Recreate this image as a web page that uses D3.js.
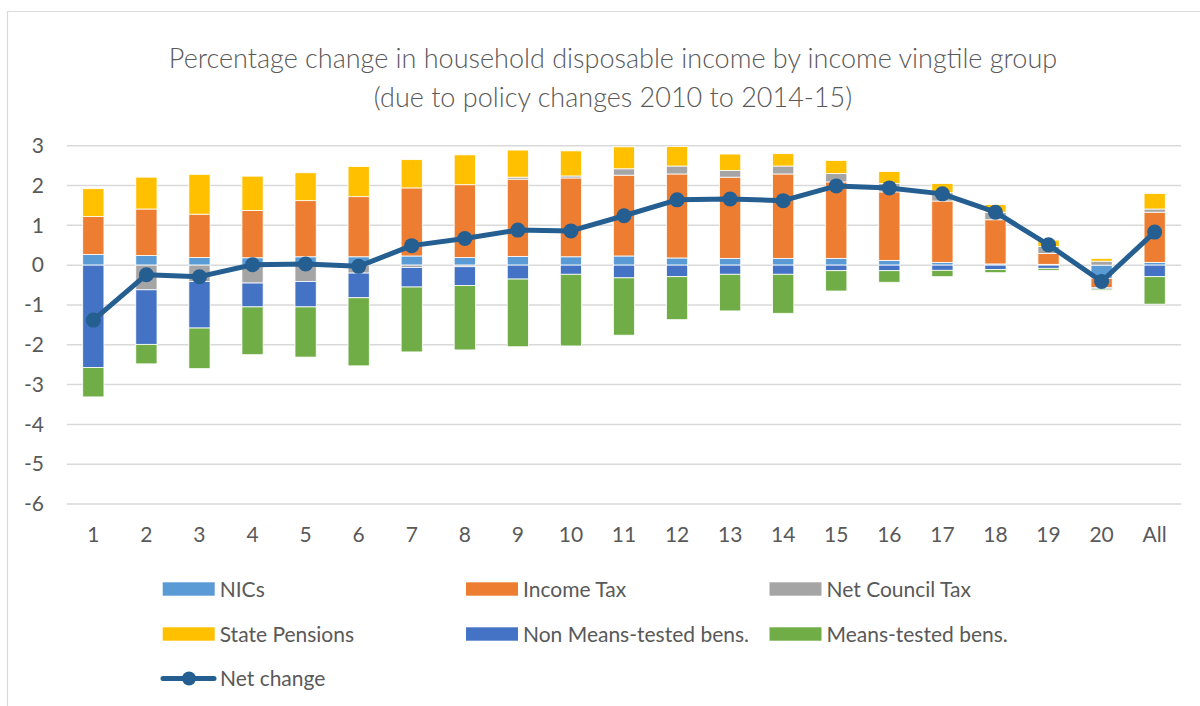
<!DOCTYPE html>
<html>
<head>
<meta charset="utf-8">
<script src="https://cdn.jsdelivr.net/npm/d3@7"></script>
<style>
body { margin: 0; background: #fff; }
svg { display: block; font-family: Lato, "Open Sans", sans-serif; }
</style>
</head>
<body>
<div id="chart"></div>
<script>
var categories = ["1","2","3","4","5","6","7","8","9","10","11","12","13","14","15","16","17","18","19","20","All"];
var nics = [0.27,0.24,0.19,0.185,0.21,0.21,0.23,0.19,0.22,0.21,0.23,0.18,0.17,0.17,0.17,0.12,0.07,0.03,0.02,-0.33,0.07];
var incomeTax = [0.95,1.17,1.09,1.19,1.41,1.51,1.71,1.83,1.94,1.98,2.03,2.11,2.04,2.12,1.92,1.72,1.54,1.11,0.27,-0.24,1.26];
var councilTax = [0,-0.62,-0.41,-0.45,-0.41,-0.20,-0.06,-0.04,0.05,0.05,0.16,0.20,0.17,0.20,0.21,0.21,0.21,0.19,0.18,0.10,0.08];
var statePensions = [0.70,0.80,1.00,0.86,0.70,0.76,0.71,0.75,0.68,0.63,0.55,0.49,0.41,0.31,0.33,0.30,0.23,0.19,0.16,0.07,0.39];
var nonMeansTested = [-2.57,-1.37,-1.17,-0.60,-0.64,-0.62,-0.49,-0.47,-0.35,-0.23,-0.32,-0.29,-0.23,-0.23,-0.14,-0.14,-0.13,-0.11,-0.08,-0.03,-0.29];
var meansTested = [-0.74,-0.49,-1.02,-1.20,-1.26,-1.71,-1.63,-1.62,-1.70,-1.80,-1.44,-1.08,-0.92,-0.98,-0.51,-0.29,-0.16,-0.08,-0.05,-0.03,-0.69];
var netChange = [-1.38,-0.24,-0.29,0.01,0.03,-0.03,0.49,0.67,0.88,0.86,1.24,1.64,1.66,1.62,1.99,1.94,1.79,1.33,0.51,-0.41,0.83];
var yTicks = [3,2,1,0,-1,-2,-3,-4,-5,-6];

var series = [
	{key: "NICs", values: nics, color: "#5B9BD5"},
	{key: "Income Tax", values: incomeTax, color: "#ED7D31"},
	{key: "Net Council Tax", values: councilTax, color: "#A5A5A5"},
	{key: "State Pensions", values: statePensions, color: "#FFC000"},
	{key: "Non Means-tested bens.", values: nonMeansTested, color: "#4472C4"},
	{key: "Means-tested bens.", values: meansTested, color: "#70AD47"}
];
var lineColor = "#255E91";
var textColor = "#595959";

var rows = categories.map(function(c, i) {
	var r = {cat: c};
	series.forEach(function(s) { r[s.key] = s.values[i]; });
	return r;
});

var width = 1200, height = 706;

var svg = d3.select("#chart").append("svg")
		.attr("width", width)
		.attr("height", height);

//chart area border
svg.append("path")
	.attr("d", "M7.5,706V11.5H1200")
	.attr("fill", "none")
	.attr("stroke", "#d9d9d9")
	.attr("stroke-width", 1.2);

var title = ["Percentage change in household disposable income by income vingtile group",
	"(due to policy changes 2010 to 2014-15)"];
svg.append("g").selectAll("text")
	.data(title)
	.enter().append("text")
	.attr("x", 613)
	.attr("y", function(d, i) { return 68 + i * 39; })
	.attr("text-anchor", "middle")
	.attr("fill", textColor)
	.style("font-size", "27px")
	.style("font-weight", 300)
	.text(function(d) { return d; });

var x = d3.scaleBand().domain(categories).range([66.8, 1181.2]).paddingInner(0.6).paddingOuter(0.3);
var y = d3.scaleLinear().domain([-6, 3]).range([504, 145.7]);

//gridlines
svg.append("g").selectAll("line")
	.data(yTicks)
	.enter().append("line")
	.attr("x1", 66.8).attr("x2", 1181.2)
	.attr("y1", function(d) { return y(d); })
	.attr("y2", function(d) { return y(d); })
	.attr("stroke", "#d9d9d9")
	.attr("stroke-width", 1.5);

var stack = d3.stack()
	.keys(series.map(function(s) { return s.key; }))
	.offset(d3.stackOffsetDiverging);
var layers = stack(rows);

svg.append("g").selectAll("g")
	.data(layers)
	.enter().append("g")
	.attr("fill", function(d, i) { return series[i].color; })
	.selectAll("rect")
	.data(function(d) { return d; })
	.enter().append("rect")
	.attr("x", function(d) { return x(d.data.cat); })
	.attr("width", x.bandwidth())
	.attr("y", function(d) { return y(Math.max(d[0], d[1])); })
	.attr("height", function(d) { return Math.abs(y(d[0]) - y(d[1])); })
	.attr("stroke", "#fff")
	.attr("stroke-width", 0.8);

//net change line
var cx = function(i) { return x(categories[i]) + x.bandwidth() / 2; };
var line = d3.line()
	.x(function(d, i) { return cx(i); })
	.y(function(d) { return y(d); });

svg.append("path")
	.datum(netChange)
	.attr("d", line)
	.attr("fill", "none")
	.attr("stroke", lineColor)
	.attr("stroke-width", 5)
	.attr("stroke-linejoin", "round");

svg.append("g").selectAll("circle")
	.data(netChange)
	.enter().append("circle")
	.attr("cx", function(d, i) { return cx(i); })
	.attr("cy", function(d) { return y(d); })
	.attr("r", 7.5)
	.attr("fill", lineColor);

//axes
var yAxis = svg.append("g")
	.attr("transform", "translate(44,0)")
	.call(d3.axisLeft(y).tickValues(yTicks).tickSize(0).tickPadding(0)
		.tickFormat(function(d) { return String(d); }));
var xAxis = svg.append("g")
	.attr("transform", "translate(0,505)")
	.call(d3.axisBottom(x).tickSize(0).tickPadding(22));
[yAxis, xAxis].forEach(function(a) {
	a.select(".domain").remove();
	a.selectAll("text")
		.attr("fill", textColor)
		.style("font-size", "21px")
		.style("font-family", "Lato, 'Open Sans', sans-serif");
});

//legend
var colX = [162.7, 466, 769.5];
var rowY = [589, 634, 678.5];
var legend = svg.append("g");
series.forEach(function(s, i) {
	var lx = colX[i % 3], ly = rowY[Math.floor(i / 3)];
	legend.append("rect")
		.attr("x", lx).attr("y", ly - 6.7)
		.attr("width", 52).attr("height", 13.4)
		.attr("fill", s.color);
	legend.append("text")
		.attr("x", lx + 57).attr("y", ly)
		.attr("dy", "0.36em")
		.attr("fill", textColor)
		.style("font-size", "21px")
		.text(s.key);
});
legend.append("line")
	.attr("x1", 163).attr("x2", 214)
	.attr("y1", rowY[2]).attr("y2", rowY[2])
	.attr("stroke", lineColor)
	.attr("stroke-width", 5)
	.attr("stroke-linecap", "round");
legend.append("circle")
	.attr("cx", 189).attr("cy", rowY[2])
	.attr("r", 7)
	.attr("fill", lineColor);
legend.append("text")
	.attr("x", 220).attr("y", rowY[2])
	.attr("dy", "0.36em")
	.attr("fill", textColor)
	.style("font-size", "21px")
	.text("Net change");
</script>
</body>
</html>
